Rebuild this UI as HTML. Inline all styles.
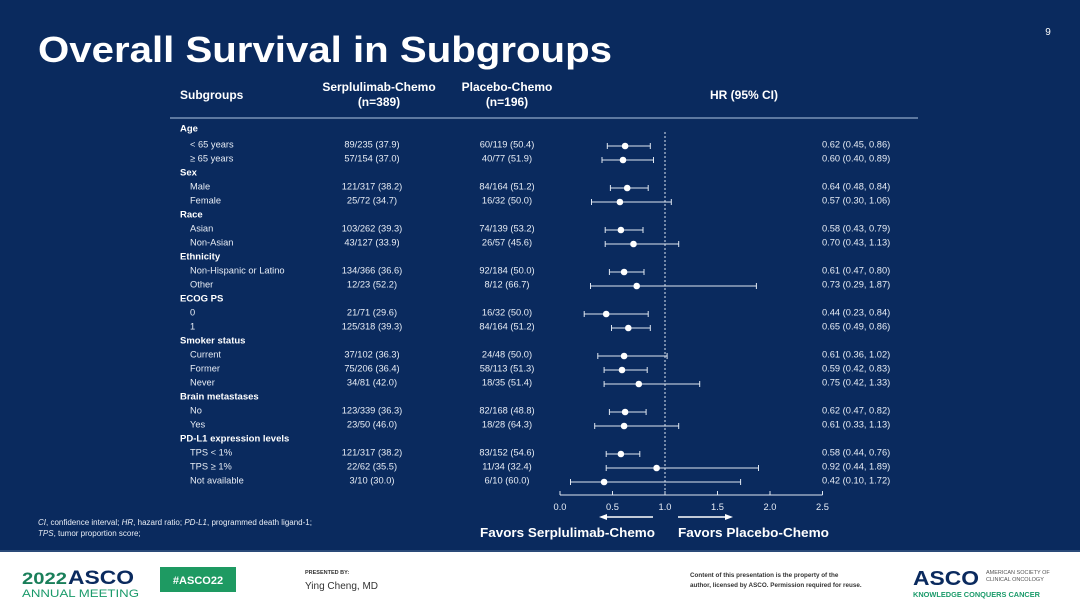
<!DOCTYPE html>
<html><head><meta charset="utf-8"><style>
html,body{margin:0;padding:0;background:#0a2a5e;}
svg{display:block;font-family:"Liberation Sans",sans-serif;}
</style></head><body>
<svg width="1080" height="608" viewBox="0 0 1080 608" xmlns="http://www.w3.org/2000/svg">
<rect width="1080" height="608" fill="#0a2a5e"/>
<text x="38" y="62" font-size="36" font-weight="bold" fill="#fff" textLength="574" lengthAdjust="spacingAndGlyphs">Overall Survival in Subgroups</text>
<text x="1048" y="35" font-size="10" fill="#fff" text-anchor="middle">9</text>
<g fill="#fff" font-weight="bold" font-size="12">
<text x="180" y="99">Subgroups</text>
<text x="379" y="91" text-anchor="middle">Serplulimab-Chemo</text>
<text x="379" y="106" text-anchor="middle">(n=389)</text>
<text x="507" y="91" text-anchor="middle">Placebo-Chemo</text>
<text x="507" y="106" text-anchor="middle">(n=196)</text>
<text x="744" y="99" text-anchor="middle">HR (95% CI)</text>
</g>
<line x1="170" y1="118" x2="918" y2="118" stroke="#8fa6c8" stroke-width="1.2"/>
<g fill="#fff" font-weight="bold" font-size="9.5">
<text x="180" y="131.5">Age</text><text x="180" y="175.5">Sex</text><text x="180" y="217.5">Race</text><text x="180" y="259.5">Ethnicity</text><text x="180" y="301.5">ECOG PS</text><text x="180" y="343.5">Smoker status</text><text x="180" y="399.5">Brain metastases</text><text x="180" y="441.5">PD-L1 expression levels</text>
</g>
<g fill="#e8edf5" font-size="9.3">
<text x="190" y="147.5">&lt; 65 years</text><text x="190" y="161.5">≥ 65 years</text><text x="190" y="189.5">Male</text><text x="190" y="203.5">Female</text><text x="190" y="231.5">Asian</text><text x="190" y="245.5">Non-Asian</text><text x="190" y="273.5">Non-Hispanic or Latino</text><text x="190" y="287.5">Other</text><text x="190" y="315.5">0</text><text x="190" y="329.5">1</text><text x="190" y="357.5">Current</text><text x="190" y="371.5">Former</text><text x="190" y="385.5">Never</text><text x="190" y="413.5">No</text><text x="190" y="427.5">Yes</text><text x="190" y="455.5">TPS &lt; 1%</text><text x="190" y="469.5">TPS ≥ 1%</text><text x="190" y="483.5">Not available</text>
</g>
<g fill="#e8edf5" font-size="9.3" text-anchor="middle">
<text x="372" y="147.5">89/235 (37.9)</text><text x="372" y="161.5">57/154 (37.0)</text><text x="372" y="189.5">121/317 (38.2)</text><text x="372" y="203.5">25/72 (34.7)</text><text x="372" y="231.5">103/262 (39.3)</text><text x="372" y="245.5">43/127 (33.9)</text><text x="372" y="273.5">134/366 (36.6)</text><text x="372" y="287.5">12/23 (52.2)</text><text x="372" y="315.5">21/71 (29.6)</text><text x="372" y="329.5">125/318 (39.3)</text><text x="372" y="357.5">37/102 (36.3)</text><text x="372" y="371.5">75/206 (36.4)</text><text x="372" y="385.5">34/81 (42.0)</text><text x="372" y="413.5">123/339 (36.3)</text><text x="372" y="427.5">23/50 (46.0)</text><text x="372" y="455.5">121/317 (38.2)</text><text x="372" y="469.5">22/62 (35.5)</text><text x="372" y="483.5">3/10 (30.0)</text>
<text x="507" y="147.5">60/119 (50.4)</text><text x="507" y="161.5">40/77 (51.9)</text><text x="507" y="189.5">84/164 (51.2)</text><text x="507" y="203.5">16/32 (50.0)</text><text x="507" y="231.5">74/139 (53.2)</text><text x="507" y="245.5">26/57 (45.6)</text><text x="507" y="273.5">92/184 (50.0)</text><text x="507" y="287.5">8/12 (66.7)</text><text x="507" y="315.5">16/32 (50.0)</text><text x="507" y="329.5">84/164 (51.2)</text><text x="507" y="357.5">24/48 (50.0)</text><text x="507" y="371.5">58/113 (51.3)</text><text x="507" y="385.5">18/35 (51.4)</text><text x="507" y="413.5">82/168 (48.8)</text><text x="507" y="427.5">18/28 (64.3)</text><text x="507" y="455.5">83/152 (54.6)</text><text x="507" y="469.5">11/34 (32.4)</text><text x="507" y="483.5">6/10 (60.0)</text>
</g>
<g fill="#e8edf5" font-size="9.3">
<text x="822" y="147.5">0.62 (0.45, 0.86)</text><text x="822" y="161.5">0.60 (0.40, 0.89)</text><text x="822" y="189.5">0.64 (0.48, 0.84)</text><text x="822" y="203.5">0.57 (0.30, 1.06)</text><text x="822" y="231.5">0.58 (0.43, 0.79)</text><text x="822" y="245.5">0.70 (0.43, 1.13)</text><text x="822" y="273.5">0.61 (0.47, 0.80)</text><text x="822" y="287.5">0.73 (0.29, 1.87)</text><text x="822" y="315.5">0.44 (0.23, 0.84)</text><text x="822" y="329.5">0.65 (0.49, 0.86)</text><text x="822" y="357.5">0.61 (0.36, 1.02)</text><text x="822" y="371.5">0.59 (0.42, 0.83)</text><text x="822" y="385.5">0.75 (0.42, 1.33)</text><text x="822" y="413.5">0.62 (0.47, 0.82)</text><text x="822" y="427.5">0.61 (0.33, 1.13)</text><text x="822" y="455.5">0.58 (0.44, 0.76)</text><text x="822" y="469.5">0.92 (0.44, 1.89)</text><text x="822" y="483.5">0.42 (0.10, 1.72)</text>
</g>
<line x1="665" y1="132" x2="665" y2="492" stroke="#dfe6f0" stroke-width="1" stroke-dasharray="2,2"/>
<g stroke="#dfe6f0" stroke-width="1">
<path d="M607.3 146H650.3M607.3 143V149M650.3 143V149"/>
<path d="M602 160H653.5M602 157V163M653.5 157V163"/>
<path d="M610.4 188H648.2M610.4 185V191M648.2 185V191"/>
<path d="M591.5 202H671.3M591.5 199V205M671.3 199V205"/>
<path d="M605.2 230H643M605.2 227V233M643 227V233"/>
<path d="M605.2 244H678.7M605.2 241V247M678.7 241V247"/>
<path d="M609.4 272H644M609.4 269V275M644 269V275"/>
<path d="M590.5 286H756.4M590.5 283V289M756.4 283V289"/>
<path d="M584.2 314H648.2M584.2 311V317M648.2 311V317"/>
<path d="M611.5 328H650.3M611.5 325V331M650.3 325V331"/>
<path d="M597.8 356H667.1M597.8 353V359M667.1 353V359"/>
<path d="M604.1 370H647.2M604.1 367V373M647.2 367V373"/>
<path d="M604.1 384H699.7M604.1 381V387M699.7 381V387"/>
<path d="M609.4 412H646.1M609.4 409V415M646.1 409V415"/>
<path d="M594.7 426H678.7M594.7 423V429M678.7 423V429"/>
<path d="M606.2 454H639.8M606.2 451V457M639.8 451V457"/>
<path d="M606.2 468H758.5M606.2 465V471M758.5 465V471"/>
<path d="M570.5 482H740.6M570.5 479V485M740.6 479V485"/>
</g>
<g fill="#fff">
<circle cx="625.1" cy="146" r="3.3"/><circle cx="623" cy="160" r="3.3"/><circle cx="627.2" cy="188" r="3.3"/><circle cx="619.9" cy="202" r="3.3"/><circle cx="620.9" cy="230" r="3.3"/><circle cx="633.5" cy="244" r="3.3"/><circle cx="624.1" cy="272" r="3.3"/><circle cx="636.7" cy="286" r="3.3"/><circle cx="606.2" cy="314" r="3.3"/><circle cx="628.3" cy="328" r="3.3"/><circle cx="624.1" cy="356" r="3.3"/><circle cx="622" cy="370" r="3.3"/><circle cx="638.8" cy="384" r="3.3"/><circle cx="625.1" cy="412" r="3.3"/><circle cx="624.1" cy="426" r="3.3"/><circle cx="620.9" cy="454" r="3.3"/><circle cx="656.6" cy="468" r="3.3"/><circle cx="604.1" cy="482" r="3.3"/>
</g>
<g stroke="#dfe6f0" stroke-width="1">
<path d="M560 495H822.5M560 495V491M612.5 495V491M665 495V491M717.5 495V491M770 495V491M822.5 495V491"/>
</g>
<g fill="#e8edf5" font-size="9.3" text-anchor="middle">
<text x="560" y="510">0.0</text><text x="612.5" y="510">0.5</text><text x="665" y="510">1.0</text><text x="717.5" y="510">1.5</text><text x="770" y="510">2.0</text><text x="822.5" y="510">2.5</text>
</g>
<g stroke="#fff" stroke-width="1.6" fill="#fff">
<line x1="606" y1="517" x2="653" y2="517"/><path d="M599 517L607 514V520Z" stroke="none"/>
<line x1="678" y1="517" x2="726" y2="517"/><path d="M733 517L725 514V520Z" stroke="none"/>
</g>
<g fill="#fff" font-weight="bold" font-size="13">
<text x="655" y="537" text-anchor="end" textLength="175" lengthAdjust="spacingAndGlyphs">Favors Serplulimab-Chemo</text>
<text x="678" y="537" textLength="151" lengthAdjust="spacingAndGlyphs">Favors Placebo-Chemo</text>
</g>
<g fill="#e8edf5" font-size="8">
<text x="38" y="525"><tspan font-style="italic">CI</tspan>, confidence interval; <tspan font-style="italic">HR</tspan>, hazard ratio; <tspan font-style="italic">PD-L1</tspan>, programmed death ligand-1;</text>
<text x="38" y="536"><tspan font-style="italic">TPS</tspan>, tumor proportion score;</text>
</g>
<rect x="0" y="551" width="1080" height="57" fill="#ffffff"/>
<line x1="0" y1="551" x2="1080" y2="551" stroke="#2a4a78" stroke-width="2"/>
<text x="22" y="584" font-size="17" font-weight="bold" fill="#1a7f5a" textLength="45" lengthAdjust="spacingAndGlyphs">2022</text>
<text x="68" y="584" font-size="19" font-weight="bold" fill="#0a2a5e" textLength="66" lengthAdjust="spacingAndGlyphs">ASCO</text>
<text x="22" y="597" font-size="11" fill="#1a9a6a" textLength="117" lengthAdjust="spacingAndGlyphs">ANNUAL MEETING</text>
<rect x="160" y="567" width="76" height="25" fill="#1e9a62"/>
<text x="198" y="584" font-size="11" font-weight="bold" fill="#fff" text-anchor="middle">#ASCO22</text>
<text x="305" y="574" font-size="5.5" font-weight="bold" fill="#333">PRESENTED BY:</text>
<text x="305" y="589" font-size="10" fill="#333">Ying Cheng, MD</text>
<text x="690" y="577" font-size="6.3" font-weight="bold" fill="#333">Content of this presentation is the property of the</text>
<text x="690" y="587" font-size="6.3" font-weight="bold" fill="#333">author, licensed by ASCO. Permission required for reuse.</text>
<text x="913" y="585" font-size="20" font-weight="bold" fill="#0a2a5e" textLength="66" lengthAdjust="spacingAndGlyphs">ASCO</text>
<text x="986" y="574" font-size="5.5" fill="#555">AMERICAN SOCIETY OF</text>
<text x="986" y="581" font-size="5.5" fill="#555">CLINICAL ONCOLOGY</text>
<text x="913" y="597" font-size="7.2" font-weight="bold" fill="#1a9a6a" textLength="127" lengthAdjust="spacingAndGlyphs">KNOWLEDGE CONQUERS CANCER</text>
</svg>
</body></html>
